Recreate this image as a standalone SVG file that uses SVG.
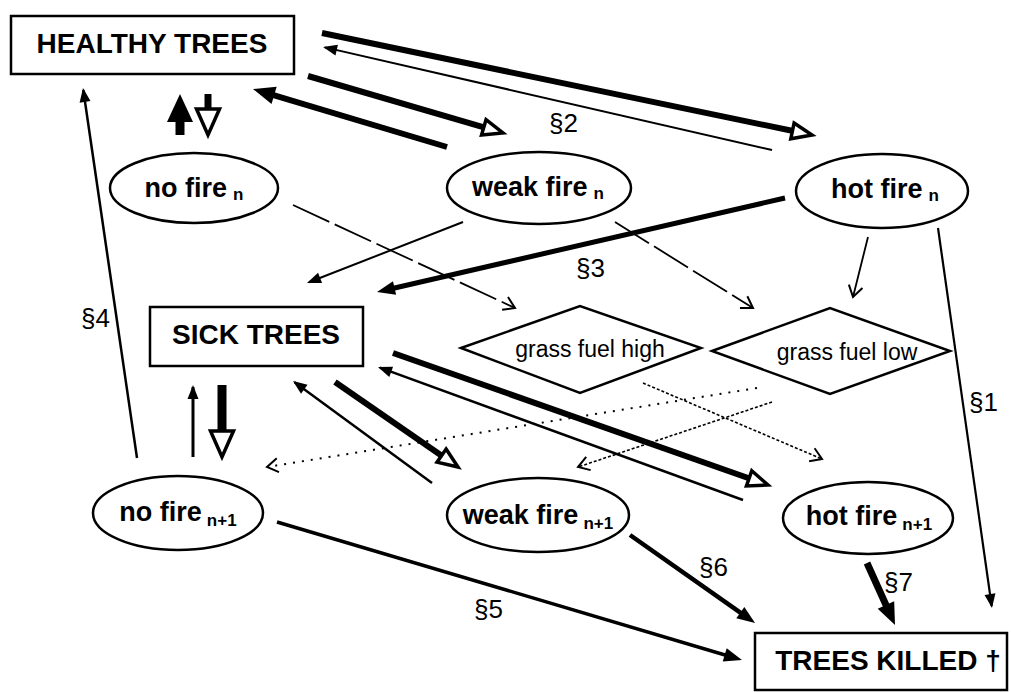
<svg xmlns="http://www.w3.org/2000/svg" width="1011" height="692" viewBox="0 0 1011 692">
<style>
.box{fill:#fff;stroke:#000;stroke-width:2.5}
.ell{fill:#fff;stroke:#000;stroke-width:2.5}
.dia{fill:#fff;stroke:#000;stroke-width:2.5}
.big{font-family:"Liberation Sans",Arial,sans-serif;font-weight:bold;font-size:28px;fill:#000}
.nod{font-family:"Liberation Sans",Arial,sans-serif;font-weight:bold;font-size:27px;fill:#000}
.sub{font-size:17px}
.gr{font-family:"Liberation Sans",Arial,sans-serif;font-size:23px;fill:#000}
.lab{font-family:"Liberation Sans",Arial,sans-serif;font-size:26px;fill:#000}
.c{fill:none;stroke:#000}
</style>
<defs>
<marker id="fs" markerUnits="userSpaceOnUse" markerWidth="14" markerHeight="11" refX="12" refY="5.5" orient="auto" overflow="visible"><path d="M0,0 L14,5.5 L0,11 z" fill="#000"/></marker>
<marker id="fm" markerUnits="userSpaceOnUse" markerWidth="18" markerHeight="14" refX="10" refY="7" orient="auto" overflow="visible"><path d="M0,0 L18,7 L0,14 z" fill="#000"/></marker>
<marker id="fb" markerUnits="userSpaceOnUse" markerWidth="22" markerHeight="18" refX="12" refY="9" orient="auto" overflow="visible"><path d="M0,0 L22,9 L0,18 z" fill="#000"/></marker>
<marker id="fx" markerUnits="userSpaceOnUse" markerWidth="28" markerHeight="26" refX="14" refY="13" orient="auto" overflow="visible"><path d="M0,0 L28,13 L0,26 z" fill="#000"/></marker>
<marker id="ob" markerUnits="userSpaceOnUse" markerWidth="24" markerHeight="20" refX="4" refY="10" orient="auto" overflow="visible"><path d="M2,2 L22,10 L2,18 z" fill="#fff" stroke="#000" stroke-width="3.5"/></marker>
<marker id="ox" markerUnits="userSpaceOnUse" markerWidth="30" markerHeight="27" refX="4" refY="13.5" orient="auto" overflow="visible"><path d="M2,2 L28,13.5 L2,25 z" fill="#fff" stroke="#000" stroke-width="3.5"/></marker>
<marker id="v" markerUnits="userSpaceOnUse" markerWidth="12" markerHeight="14" refX="11" refY="7" orient="auto" overflow="visible"><path d="M0,0 L11,7 L0,14" fill="none" stroke="#000" stroke-width="2"/></marker>
</defs>

<g id="connectors">
<path class="c" stroke-width="6" d="M322,33 L794.4,131.3" marker-end="url(#ob)"/>
<path class="c" stroke-width="2" d="M772,150 L325,47.4" marker-end="url(#fs)"/>
<path class="c" stroke-width="6" d="M308,76 L485.7,127.9" marker-end="url(#ob)"/>
<path class="c" stroke-width="6" d="M447,147 L262.6,91.9" marker-end="url(#fb)"/>
<path class="c" stroke-width="9" d="M180,135 L180,108" marker-end="url(#fx)"/>
<path class="c" stroke-width="7" d="M208,94 L208,111" marker-end="url(#ox)"/>
<path class="c" stroke-width="2.5" d="M137,458 L83.3,90" marker-end="url(#fs)"/>
<path class="c" stroke-width="1.8" stroke-dasharray="40 6" d="M293,205 L515,308" marker-end="url(#v)"/>
<path class="c" stroke-width="1.8" stroke-dasharray="40 6" d="M615,222 L753,308" marker-end="url(#v)"/>
<path class="c" stroke-width="1.8" d="M868,237 L853,297" marker-end="url(#v)"/>
<path class="c" stroke-width="2" d="M463,222 L308.9,282.3" marker-end="url(#fs)"/>
<path class="c" stroke-width="5" d="M785,198 L384.8,290.2" marker-end="url(#fm)"/>
<path class="c" stroke-width="2.2" d="M938,228 L991.7,606" marker-end="url(#fs)"/>
<path class="c" stroke-width="6" d="M335,382 L443.2,456.8" marker-end="url(#ob)"/>
<path class="c" stroke-width="2.5" d="M432,483 L294.6,382.2" marker-end="url(#fs)"/>
<path class="c" stroke-width="6" d="M393,353 L751,479" marker-end="url(#ob)"/>
<path class="c" stroke-width="2.5" d="M743,500 L379.9,367.7" marker-end="url(#fs)"/>
<path class="c" stroke-width="3" d="M193,457 L193,387" marker-end="url(#fs)"/>
<path class="c" stroke-width="9" d="M222,385 L222,433" marker-end="url(#ox)"/>
<path class="c" stroke-width="2" stroke-dasharray="2 7" d="M757,388 L267,467" marker-end="url(#v)"/>
<path class="c" stroke-width="1.6" stroke-dasharray="3 2" d="M643,383 L822,459" marker-end="url(#v)"/>
<path class="c" stroke-width="1.6" stroke-dasharray="3 2" d="M772,402 L578,467" marker-end="url(#v)"/>
<path class="c" stroke-width="3.5" d="M277,522 L734.3,657.7" marker-end="url(#fm)"/>
<path class="c" stroke-width="4.5" d="M630,535 L748.5,618.4" marker-end="url(#fm)"/>
<path class="c" stroke-width="7" d="M867,563 L890.9,615.9" marker-end="url(#fb)"/>
<text class="lab" x="549" y="132">§2</text>
<text class="lab" x="576" y="277">§3</text>
<text class="lab" x="81" y="327">§4</text>
<text class="lab" x="969" y="411">§1</text>
<text class="lab" x="474" y="618">§5</text>
<text class="lab" x="699" y="576">§6</text>
<text class="lab" x="884" y="591">§7</text>
</g>

<g id="healthy-trees">
<rect class="box" x="11" y="16" width="283" height="58"/>
<text class="big" x="152" y="53" text-anchor="middle">HEALTHY TREES</text>
</g>

<g id="no-fire-n">
<ellipse class="ell" cx="194" cy="188" rx="84" ry="35"/>
<text class="nod" x="194" y="197" text-anchor="middle">no fire<tspan class="sub" dx="6" dy="3">n</tspan></text>
</g>

<g id="weak-fire-n">
<ellipse class="ell" cx="539" cy="188" rx="92" ry="36"/>
<text class="nod" x="538" y="196" text-anchor="middle">weak fire<tspan class="sub" dx="6" dy="3">n</tspan></text>
</g>

<g id="hot-fire-n">
<ellipse class="ell" cx="882" cy="191" rx="86" ry="37"/>
<text class="nod" x="885" y="198" text-anchor="middle">hot fire<tspan class="sub" dx="6" dy="3">n</tspan></text>
</g>

<g id="sick-trees">
<rect class="box" x="150" y="307" width="213" height="59"/>
<text class="big" x="256" y="344" text-anchor="middle">SICK TREES</text>
</g>

<g id="grass-fuel-high">
<polygon class="dia" points="461,348 580,306 701,348 580,393"/>
<text class="gr" x="590" y="357" text-anchor="middle">grass fuel high</text>
</g>

<g id="grass-fuel-low">
<polygon class="dia" points="712,351 830,308 950,351 830,394"/>
<text class="gr" x="847" y="360" text-anchor="middle">grass fuel low</text>
</g>

<g id="no-fire-n1">
<ellipse class="ell" cx="178" cy="513" rx="85" ry="37"/>
<text class="nod" x="178" y="521" text-anchor="middle">no fire<tspan class="sub" dx="5" dy="5">n+1</tspan></text>
</g>

<g id="weak-fire-n1">
<ellipse class="ell" cx="538" cy="515" rx="91" ry="37"/>
<text class="nod" x="538" y="524" text-anchor="middle">weak fire<tspan class="sub" dx="5" dy="5">n+1</tspan></text>
</g>

<g id="hot-fire-n1">
<ellipse class="ell" cx="868" cy="518" rx="85" ry="36"/>
<text class="nod" x="869" y="525" text-anchor="middle">hot fire<tspan class="sub" dx="5" dy="5">n+1</tspan></text>
</g>

<g id="trees-killed">
<rect class="box" x="755" y="633" width="252" height="57"/>
<text class="big" x="888" y="670" text-anchor="middle">TREES KILLED †</text>
</g>
</svg>
